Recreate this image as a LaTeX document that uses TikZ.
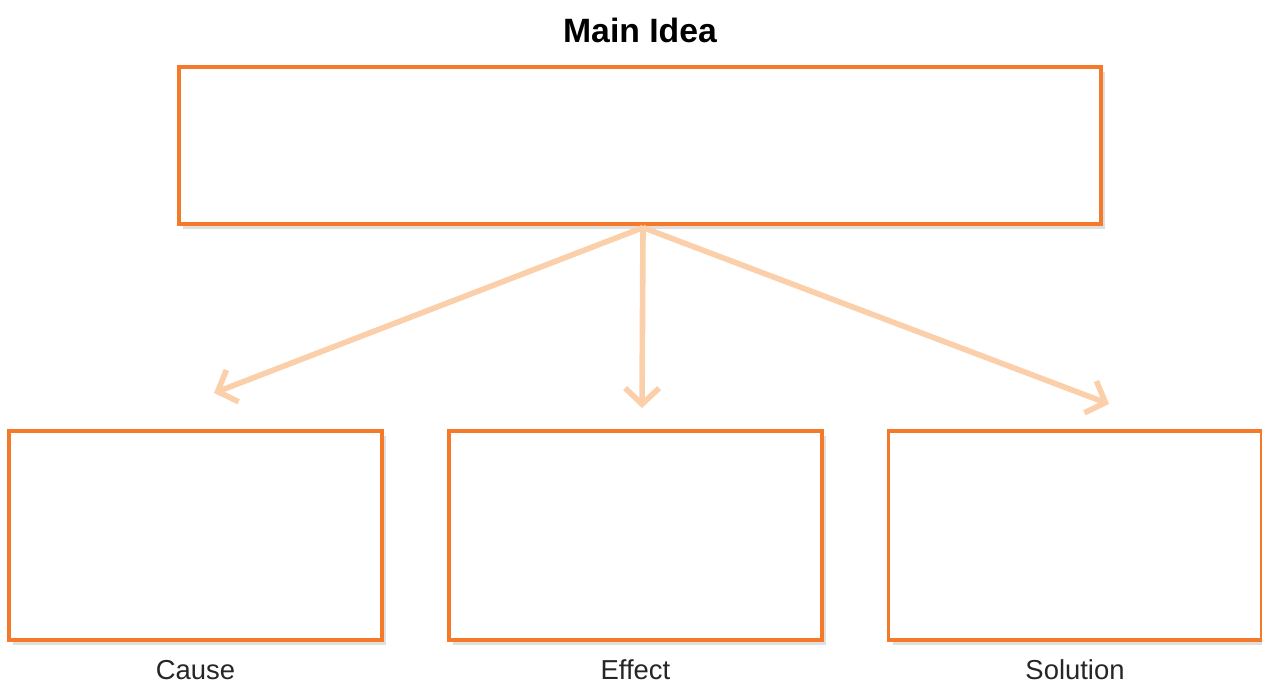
\documentclass[tikz,border=0pt]{standalone}
\usepackage{fontspec}
\setmainfont{Liberation Sans}
\usepackage{tikz}
\usetikzlibrary{arrows.meta,calc,positioning,shadows}
\usepackage{xcolor}
\definecolor{cadre}{HTML}{F47A2A}
\definecolor{fleche}{HTML}{FBCFAA}

\begin{document}
\begin{tikzpicture}[>={Straight Barb[length=1.6mm,width=3.4mm]},
  boite/.style={draw=cadre, line width=0.9pt, fill=white,
    drop shadow={opacity=0.25, shadow xshift=1.2pt, shadow yshift=-1.4pt}},
  fl/.style={->, draw=fleche, line width=1.6pt},
  etiq/.style={font=\fontsize{7.8}{9}\selectfont, text=black!85}]
\useasboundingbox (0,0) rectangle (12.62,6.85);
% idee principale
\node[boite, minimum width=9.22cm, minimum height=1.57cm] (main) at (6.40,5.395) {};
\node[above=0.1cm of main, font=\fontsize{9.6}{11}\selectfont\bfseries] (titre) {Main Idea};
% cases du bas
\node[boite, minimum width=3.73cm, minimum height=2.09cm] (cause) at (1.955,1.495) {};
\node[boite, minimum width=3.73cm, minimum height=2.09cm] (effet) at (6.355,1.495) {};
\node[boite, minimum width=3.73cm, minimum height=2.09cm] (solution) at (10.75,1.495) {};
\node[etiq, below=0.06cm of cause] (lcause) {Cause};
\node[etiq, below=0.06cm of effet] (leffet) {Effect};
\node[etiq, below=0.06cm of solution] (lsolution) {Solution};
% fleches
\coordinate (depart) at ($(main.south)+(0.03,-0.02)$);
\coordinate (fg) at (2.14,2.92);
\coordinate (fm) at (6.42,2.77);
\coordinate (fd) at (11.09,2.81);
\draw[fl] (depart) -- (fg);
\draw[fl] (depart) -- (fm);
\draw[fl] (depart) -- (fd);
\end{tikzpicture}
\end{document}
